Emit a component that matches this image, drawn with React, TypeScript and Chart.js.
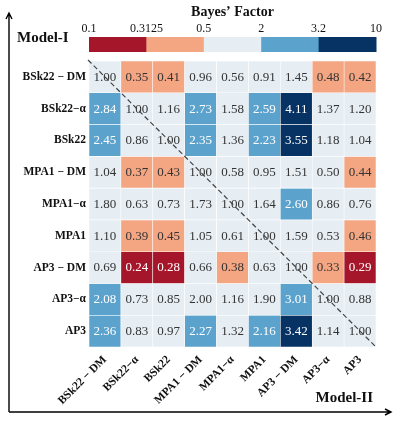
import React, { useEffect, useRef } from "react";
import { Chart, registerables } from "chart.js";

Chart.register(...registerables);

const rowLabels = ["BSk22 − DM", "BSk22−α", "BSk22", "MPA1 − DM", "MPA1−α", "MPA1", "AP3 − DM", "AP3−α", "AP3"];
const colLabels = ["BSk22 − DM", "BSk22−α", "BSk22", "MPA1 − DM", "MPA1−α", "MPA1", "AP3 − DM", "AP3−α", "AP3"];

const rowBSk22DM = [1.0, 0.35, 0.41, 0.96, 0.56, 0.91, 1.45, 0.48, 0.42];
const rowBSk22a = [2.84, 1.0, 1.16, 2.73, 1.58, 2.59, 4.11, 1.37, 1.2];
const rowBSk22 = [2.45, 0.86, 1.0, 2.35, 1.36, 2.23, 3.55, 1.18, 1.04];
const rowMPA1DM = [1.04, 0.37, 0.43, 1.0, 0.58, 0.95, 1.51, 0.5, 0.44];
const rowMPA1a = [1.8, 0.63, 0.73, 1.73, 1.0, 1.64, 2.6, 0.86, 0.76];
const rowMPA1 = [1.1, 0.39, 0.45, 1.05, 0.61, 1.0, 1.59, 0.53, 0.46];
const rowAP3DM = [0.69, 0.24, 0.28, 0.66, 0.38, 0.63, 1.0, 0.33, 0.29];
const rowAP3a = [2.08, 0.73, 0.85, 1.997, 1.16, 1.9, 3.01, 1.0, 0.88];
const rowAP3 = [2.36, 0.83, 0.97, 2.27, 1.32, 2.16, 3.42, 1.14, 1.0];

const matrix = [rowBSk22DM, rowBSk22a, rowBSk22, rowMPA1DM, rowMPA1a, rowMPA1, rowAP3DM, rowAP3a, rowAP3];

const boundaries = [0.1, 0.3125, 0.5, 2, 3.2, 10];
const boundaryLabels = ["0.1", "0.3125", "0.5", "2", "3.2", "10"];
const binColors = ["#A6162B", "#F4A582", "#E6EEF4", "#5BA2CC", "#063264"];
const binTextColors = ["#ffffff", "#333333", "#333333", "#ffffff", "#ffffff"];

function binOf(v: number): number {
  if (v < boundaries[1]) return 0;
  if (v < boundaries[2]) return 1;
  if (v <= boundaries[3]) return 2;
  if (v < boundaries[4]) return 3;
  return 4;
}

const SERIF = "'Liberation Serif', 'DejaVu Serif', serif";

const overlayPlugin = {
  id: "overlay",
  afterDatasetsDraw(chart: any) {
    const ctx = chart.ctx;
    const area = chart.chartArea;
    ctx.save();
    // cell numbers
    ctx.font = `13px ${SERIF}`;
    ctx.textAlign = "center";
    ctx.textBaseline = "middle";
    matrix.forEach((row, r) => {
      const meta = chart.getDatasetMeta(r);
      meta.data.forEach((el: any, c: number) => {
        const v = row[c];
        const { x, y, base } = el.getProps(["x", "y", "base"], true);
        ctx.fillStyle = binTextColors[binOf(v)];
        ctx.fillText(v.toFixed(2), x, (y + base) / 2 + 0.5);
      });
    });
    // diagonal dashed line
    ctx.strokeStyle = "#444444";
    ctx.lineWidth = 1.2;
    ctx.setLineDash([5, 3]);
    ctx.beginPath();
    ctx.moveTo(area.left - 1, area.top - 1);
    ctx.lineTo(area.right, area.bottom);
    ctx.stroke();
    ctx.setLineDash([]);

    // colorbar
    const cbTop = 37;
    const cbH = 15;
    const n = binColors.length;
    const w = (area.right - area.left) / n;
    binColors.forEach((col, i) => {
      ctx.fillStyle = col;
      ctx.fillRect(area.left + i * w, cbTop, w + 0.5, cbH);
    });
    ctx.fillStyle = "#111111";
    ctx.font = `12px ${SERIF}`;
    ctx.textBaseline = "middle";
    ctx.textAlign = "center";
    boundaryLabels.forEach((lab, i) => {
      ctx.fillText(lab, area.left + i * w, 29);
    });
    ctx.font = `bold 14px ${SERIF}`;
    ctx.fillText("Bayes’ Factor", (area.left + area.right) / 2, 12);

    // Model labels
    ctx.font = `bold 15px ${SERIF}`;
    ctx.textAlign = "left";
    ctx.fillText("Model-I", 17, 38);
    ctx.textAlign = "right";
    ctx.fillText("Model-II", 373, 398);

    // axes arrows
    ctx.strokeStyle = "#000000";
    ctx.lineWidth = 1.4;
    ctx.beginPath();
    ctx.moveTo(9, 412);
    ctx.lineTo(9, 14);
    ctx.moveTo(9, 412);
    ctx.lineTo(390, 412);
    // heads
    ctx.moveTo(6, 19);
    ctx.lineTo(9, 13);
    ctx.lineTo(12, 19);
    ctx.moveTo(385, 409);
    ctx.lineTo(391, 412);
    ctx.lineTo(385, 415);
    ctx.stroke();
    ctx.restore();
  },
};

export default function App() {
  const ref = useRef<HTMLCanvasElement | null>(null);
  useEffect(() => {
    document.body.style.margin = "0";
    if (!ref.current) return;
    const datasets = matrix.map((row, r) => ({
      label: rowLabels[r],
      data: row.map(() => [8 - r, 9 - r]),
      backgroundColor: row.map((v) => binColors[binOf(v)]),
      borderColor: "#ffffff",
      borderWidth: 0.6,
      borderSkipped: false,
      grouped: false,
      barPercentage: 1,
      categoryPercentage: 1,
    }));
    const chart = new Chart(ref.current, {
      type: "bar",
      data: { labels: colLabels, datasets: datasets as any },
      options: {
        animation: false,
        responsive: false,
        layout: { padding: { left: 0, right: 20, top: 61, bottom: 0 } },
        plugins: { legend: { display: false }, tooltip: { enabled: false } },
        scales: {
          x: {
            type: "category",
            offset: true,
            grid: { display: false, drawTicks: false },
            border: { display: false },
            ticks: {
              minRotation: 45,
              maxRotation: 45,
              color: "#111111",
              padding: 6,
              font: { family: SERIF, size: 11.5, weight: "bold" },
            },
            afterFit: (s: any) => {
              s.height = 76;
            },
          },
          y: {
            type: "linear",
            min: 0,
            max: 9,
            grid: { display: false, drawTicks: false },
            border: { display: false },
            afterBuildTicks: (s: any) => {
              s.ticks = rowLabels.map((_, i) => ({ value: i + 0.5 }));
            },
            ticks: {
              color: "#111111",
              padding: 3,
              font: { family: SERIF, size: 11.5, weight: "bold" },
              callback: (value: any) => rowLabels[8 - Math.floor(Number(value))],
            },
            afterFit: (s: any) => {
              s.width = 89;
            },
          },
        },
      },
      plugins: [overlayPlugin],
    });
    return () => chart.destroy();
  }, []);
  return (
    <div style={{ width: 396, height: 423 }}>
      <canvas ref={ref} width={396} height={423} style={{ display: "block" }} />
    </div>
  );
}
